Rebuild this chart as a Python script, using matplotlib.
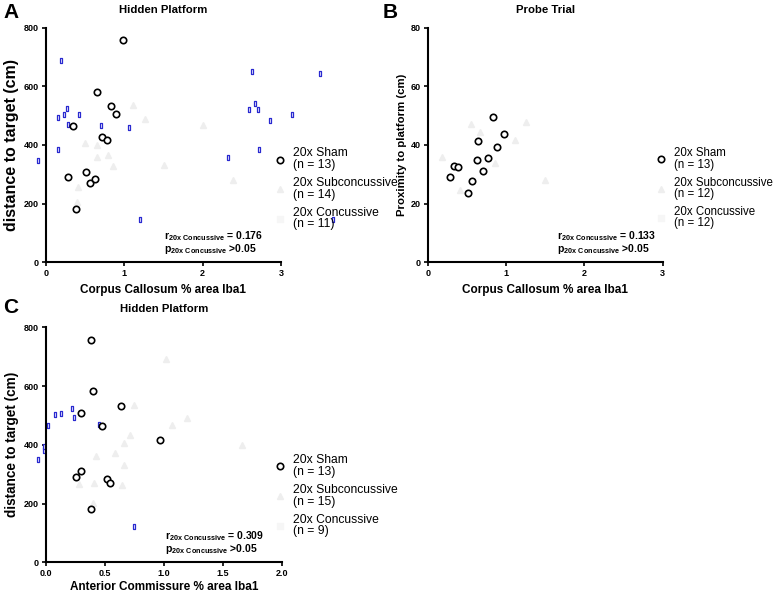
import numpy as np
import matplotlib
matplotlib.use("Agg")
import matplotlib.pyplot as plt
from matplotlib.lines import Line2D

plt.rcParams['font.family'] = ['Liberation Sans', 'DejaVu Sans']
plt.rcParams['mathtext.fontset'] = 'custom'
plt.rcParams['mathtext.rm'] = 'Liberation Sans'
plt.rcParams['mathtext.bf'] = 'Liberation Sans:bold'

# ---- panel A : hidden platform vs corpus callosum
a_sham_x = [0.983, 0.651, 0.834, 0.894, 0.349, 0.715, 0.783, 0.289, 0.519, 0.566, 0.634, 0.387]
a_sham_y = [757, 581, 532, 506, 464, 427, 416, 290, 309, 270, 283, 181]
a_conc_x = [0.196, 0.162, 0.234, 0.277, 0.289, 0.430, 0.162, -0.102, 0.706, 1.064, 1.204,
            2.630, 2.596, 2.668, 2.706, 2.864, 2.328, 2.723, 3.140, 3.494, 3.664]
a_conc_y = [690, 496, 506, 526, 471, 507, 387, 349, 468, 460, 147,
            653, 522, 544, 523, 486, 360, 387, 506, 645, 146]
a_sub_x = [1.116, 1.265, 0.50, 0.65, 0.66, 0.80, 0.86, 1.51, 0.415, 0.395, 2.0, 2.39]
a_sub_y = [536, 490, 407, 399, 359, 365, 328, 333, 257, 206, 468, 280]

# ---- panel B : probe trial vs corpus callosum
b_sham_x = [0.974, 0.830, 0.643, 0.885, 0.774, 0.626, 0.711, 0.340, 0.383, 0.281, 0.562, 0.511]
b_sham_y = [43.8, 49.5, 41.2, 39.3, 35.6, 35.0, 31.2, 32.9, 32.5, 29.1, 27.7, 23.7]
b_sub_x = [0.55, 0.67, 1.11, 1.26, 0.86, 1.50, 0.18, 0.41]
b_sub_y = [47.0, 44.3, 41.7, 47.9, 33.7, 28.2, 36.0, 24.6]

# ---- panel C : hidden platform vs anterior commissure
c_sham_x = [0.381, 0.404, 0.641, 0.299, 0.475, 0.972, 0.302, 0.260, 0.517, 0.545, 0.381]
c_sham_y = [756, 582, 533, 507, 464, 415, 310, 290, 285, 271, 182]
c_conc_x = [-0.062, -0.017, -0.012, 0.017, 0.082, 0.127, 0.226, 0.240, 0.455, 0.751]
c_conc_y = [351, 382, 396, 469, 506, 507, 525, 495, 471, 125]
c_sub_x = [1.017, 0.751, 1.198, 1.073, 0.715, 0.664, 1.658, 0.588, 0.424, 0.664, 0.65, 0.41, 0.28, 0.40]
c_sub_y = [691, 536, 490, 469, 432, 405, 398, 371, 362, 332, 264, 271, 267, 201]

groups = ["20x Sham", "20x Subconcussive", "20x Concussive"]
n_A = [13, 14, 11]
n_B = [13, 12, 12]
n_C = [13, 15, 9]
r_vals = ["0.176", "0.133", "0.309"]

rect = [(-0.55, -1), (0.55, -1), (0.55, 1), (-0.55, 1), (-0.55, -1)]
faint = '#eeeeee'

fig = plt.figure(figsize=(7.77, 5.93), dpi=100)
axA = fig.add_axes([0.0588, 0.558, 0.303, 0.395])
axB = fig.add_axes([0.5505, 0.558, 0.3025, 0.395])
axC = fig.add_axes([0.0588, 0.0518, 0.304, 0.396])


def style(ax, xlim, ylim, xticks, yticks, xlabel, ylabel, title, ysize, xpad, xfmt=None):
    ax.set_xlim(xlim)
    ax.set_ylim(ylim)
    ax.set_xticks(xticks)
    ax.set_yticks(yticks)
    if xfmt:
        ax.set_xticklabels([xfmt % t for t in xticks])
    for s in ['top', 'right']:
        ax.spines[s].set_visible(False)
    for s in ['left', 'bottom']:
        ax.spines[s].set_linewidth(1.5)
    ax.tick_params(direction='out', length=3, width=1.2, labelsize=6.5, pad=2)
    for lab in ax.get_xticklabels() + ax.get_yticklabels():
        lab.set_fontweight('bold')
    ax.set_xlabel(xlabel, fontsize=8.5, fontweight='bold', labelpad=xpad)
    ax.set_ylabel(ylabel, fontsize=ysize, fontweight='bold', labelpad=3)
    ax.set_title(title, fontsize=8.2, fontweight='bold', pad=11)


def panel(ax, sham_x, sham_y, sub_x, sub_y, conc_x, conc_y, ns, r, xr, leg_x, leg_y, lfs=8.7):
    ax.plot(sub_x, sub_y, '^', ms=5, color=faint, mec=faint, ls='None', clip_on=False)
    if conc_x is not None:
        ax.plot(conc_x, conc_y, marker=rect, ms=3.6, mfc='white', mec='#2a2ad0', mew=0.9,
                ls='None', clip_on=False)
    ax.plot(sham_x, sham_y, 'o', ms=4.6, mfc='white', mec='black', mew=1.2, ls='None',
            clip_on=False)
    handles = [Line2D([], [], marker='o', ms=4.6, mfc='white', mec='black', mew=1.2, ls='None'),
               Line2D([], [], marker='^', ms=5, color=faint, ls='None'),
               Line2D([], [], marker='s', ms=4, color='#f6f6f6', ls='None')]
    labels = ["%s\n(n = %d)" % (g, n) for g, n in zip(groups, ns)]
    leg = ax.legend(handles, labels, loc='upper left', bbox_to_anchor=(leg_x, leg_y),
                    frameon=False, fontsize=lfs, handlelength=0.8, handletextpad=0.7,
                    labelspacing=0.5, borderaxespad=0)
    for t in leg.get_texts():
        t.set_linespacing(0.95)
    ax.text(xr, 0.111, r"$\mathbf{r_{20x\ Concussive}}$" + " = " + r, transform=ax.transAxes,
            fontsize=7.5, fontweight='bold', va='center')
    ax.text(xr, 0.055, r"$\mathbf{p_{20x\ Concussive}}$" + " >0.05", transform=ax.transAxes,
            fontsize=7.5, fontweight='bold', va='center')


panel(axA, a_sham_x, a_sham_y, a_sub_x, a_sub_y, a_conc_x, a_conc_y, n_A, r_vals[0], 0.503, 0.955, 0.51)
style(axA, (0, 3), (0, 800), [0, 1, 2, 3], [0, 200, 400, 600, 800],
      "Corpus Callosum % area Iba1", "distance to target (cm)", "Hidden Platform", 11.5, 4)

panel(axB, b_sham_x, b_sham_y, b_sub_x, b_sub_y, None, None, n_B, r_vals[1], 0.549, 0.955, 0.51,
      lfs=8.3)
style(axB, (0, 3), (0, 80), [0, 1, 2, 3], [0, 20, 40, 60, 80],
      "Corpus Callosum % area Iba1", "Proximity to platform (cm)", "Probe Trial", 8.2, 4)

panel(axC, c_sham_x, c_sham_y, c_sub_x, c_sub_y, c_conc_x, c_conc_y, n_C, r_vals[2], 0.503, 0.95, 0.48)
style(axC, (0, 2), (0, 800), [0.0, 0.5, 1.0, 1.5, 2.0], [0, 200, 400, 600, 800],
      "Anterior Commissure % area Iba1", "distance to target (cm)", "Hidden Platform", 9.8, 2,
      "%.1f")

fig.text(0.004, 0.995, "A", fontsize=15, fontweight='bold', va='top')
fig.text(0.492, 0.995, "B", fontsize=15, fontweight='bold', va='top')
fig.text(0.004, 0.497, "C", fontsize=15, fontweight='bold', va='top')

fig.savefig("out.png", dpi=100)
